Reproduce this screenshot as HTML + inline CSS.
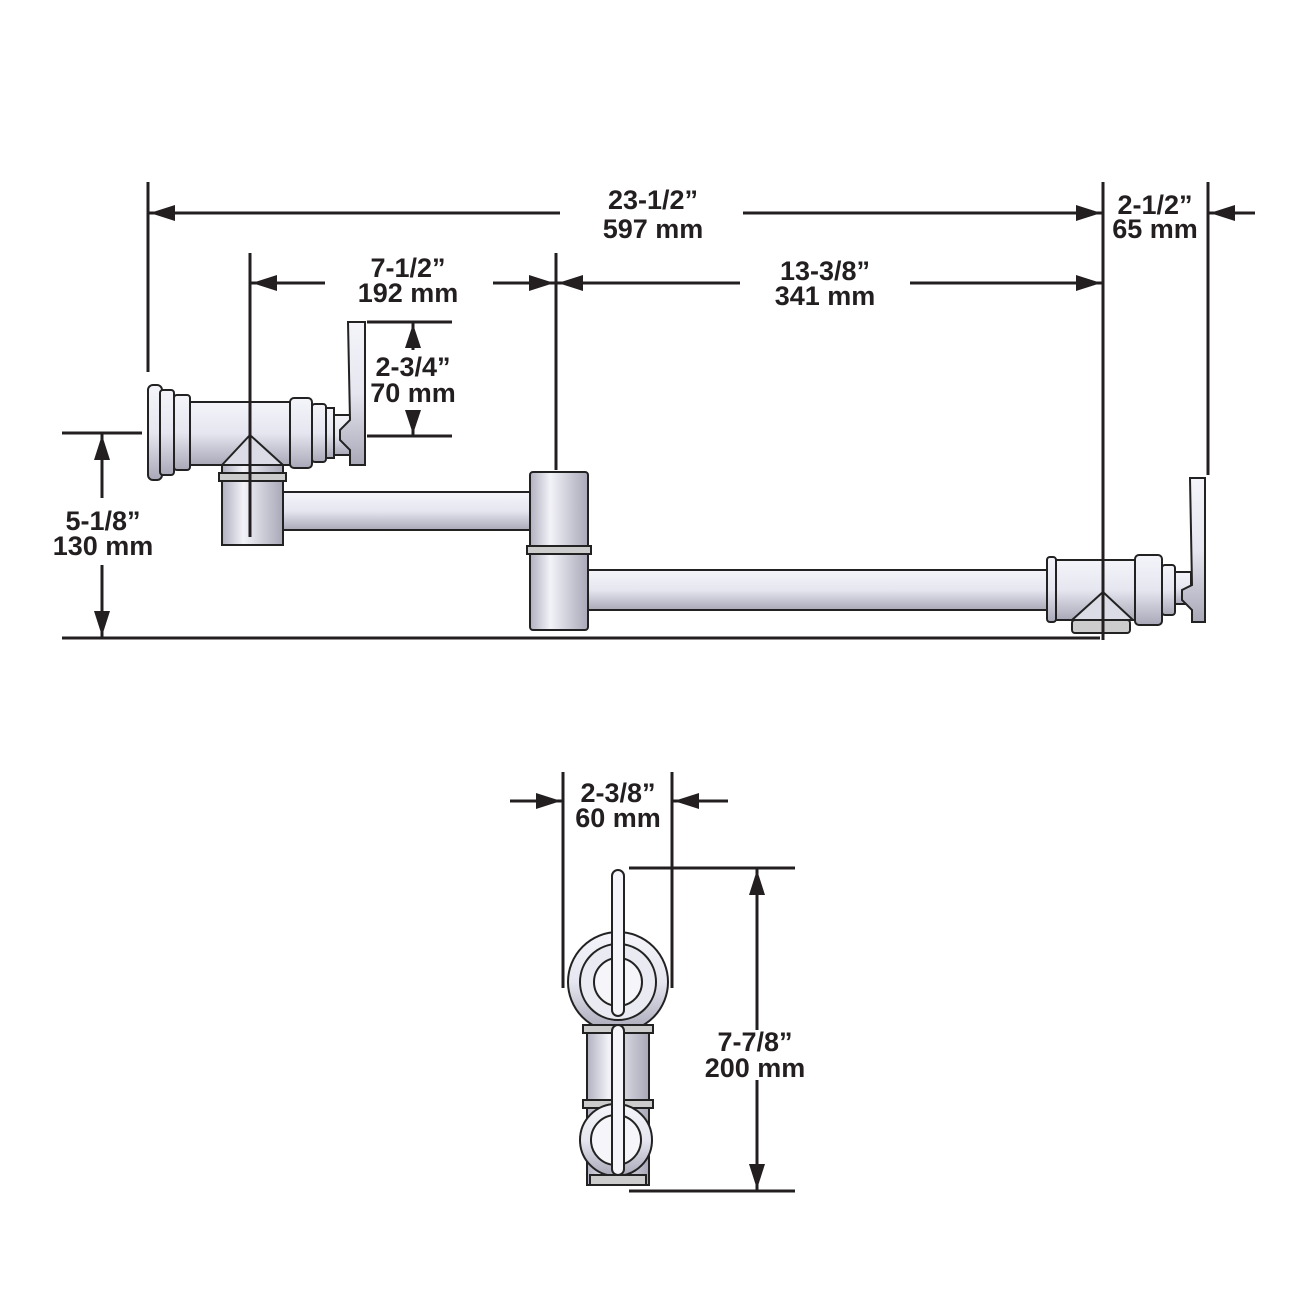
<!DOCTYPE html>
<html><head><meta charset="utf-8"><style>
html,body{margin:0;padding:0;background:#fff;}
svg{display:block;}
text{font-family:"Liberation Sans",sans-serif;font-weight:bold;font-size:27px;fill:#231f20;text-anchor:middle;}
</style></head><body>
<svg width="1300" height="1300" viewBox="0 0 1300 1300" xmlns="http://www.w3.org/2000/svg">
<defs>
<linearGradient id="gv" x1="0" y1="0" x2="0" y2="1">
<stop offset="0" stop-color="#f4f4fa"/><stop offset="0.5" stop-color="#e6e6f0"/><stop offset="1" stop-color="#a8a8b8"/>
</linearGradient>
<linearGradient id="gh" x1="0" y1="0" x2="1" y2="0">
<stop offset="0" stop-color="#b0b0c0"/><stop offset="0.35" stop-color="#f2f2f8"/><stop offset="1" stop-color="#a8a8b8"/>
</linearGradient>
</defs>
<g fill="url(#gv)" stroke="#222" stroke-width="2">
<!-- left assembly -->
<rect x="148" y="385" width="14" height="95" rx="5"/>
<rect x="160" y="390" width="14" height="85" rx="3"/>
<rect x="174" y="395" width="16" height="75" rx="3"/>
<rect x="190" y="402" width="102" height="63"/>
<rect x="290" y="398" width="22" height="70" rx="4"/>
<rect x="312" y="404" width="14" height="58" rx="3"/>
<rect x="326" y="408" width="8" height="50"/>
<path d="M334 415 L355 415 L355 455 L334 455 Z"/>
<path d="M348 322 L365 322 L365 465 L350 465 L350 450 L340 440 L340 430 L350 420 Z"/>
<path d="M222 465 L250 435 L283 465 Z" fill="#dcdce6"/>
<rect x="222" y="465" width="61" height="80" fill="url(#gh)"/>
<rect x="219" y="473" width="67" height="8" fill="#ccc"/>
<rect x="283" y="492" width="250" height="38"/>
<rect x="530" y="472" width="58" height="158" rx="3" fill="url(#gh)"/>
<rect x="527" y="546" width="64" height="8" fill="#ccc"/>
<rect x="588" y="570" width="462" height="40"/>
<!-- right end -->
<rect x="1047" y="557" width="9" height="65" rx="3"/>
<rect x="1056" y="560" width="80" height="60"/>
<path d="M1072 620 L1103 592 L1133 620 Z" fill="#dcdce6"/>
<rect x="1072" y="620" width="58" height="13" rx="3" fill="#ccc"/>
<rect x="1135" y="555" width="27" height="70" rx="4"/>
<rect x="1162" y="565" width="13" height="50" rx="3"/>
<rect x="1175" y="572" width="16" height="32"/>
<path d="M1190 478 L1205 478 L1205 622 L1192 622 L1192 610 L1182 600 L1182 590 L1192 585 Z"/>
<!-- bottom view -->
<circle cx="618" cy="982" r="50"/>
<circle cx="618" cy="982" r="38" fill="#eaeaf2"/>
<circle cx="618" cy="982" r="24" fill="#f6f6fa"/>
<rect x="587" y="1025" width="62" height="160" fill="url(#gh)"/>
<rect x="583" y="1025" width="70" height="8" fill="#ccc"/>
<rect x="583" y="1100" width="70" height="8" fill="#ccc"/>
<circle cx="616" cy="1140" r="36"/>
<circle cx="616" cy="1140" r="25" fill="#f6f6fa"/>
<rect x="590" y="1175" width="56" height="10" fill="#ccc"/>
<rect x="612" y="870" width="12" height="146" rx="6" fill="#f6f6fa"/>
<rect x="612" y="1025" width="12" height="150" rx="6" fill="#f6f6fa"/>
</g>
<g stroke="#231f20" stroke-width="3" fill="none">
<line x1="148" y1="182" x2="148" y2="372"/>
<line x1="1103" y1="182" x2="1103" y2="640"/>
<line x1="1208" y1="182" x2="1208" y2="475"/>
<line x1="148" y1="213" x2="560" y2="213"/>
<line x1="743" y1="213" x2="1103" y2="213"/>
<line x1="1208" y1="213" x2="1255" y2="213"/>
<line x1="250" y1="253" x2="250" y2="537"/>
<line x1="556" y1="253" x2="556" y2="470"/>
<line x1="250" y1="283" x2="325" y2="283"/>
<line x1="493" y1="283" x2="556" y2="283"/>
<line x1="556" y1="283" x2="740" y2="283"/>
<line x1="910" y1="283" x2="1103" y2="283"/>
<line x1="367" y1="322" x2="452" y2="322"/>
<line x1="367" y1="436" x2="452" y2="436"/>
<line x1="413" y1="322" x2="413" y2="350"/>
<line x1="413" y1="410" x2="413" y2="436"/>
<line x1="62" y1="433" x2="142" y2="433"/>
<line x1="62" y1="638" x2="1100" y2="638"/>
<line x1="102" y1="433" x2="102" y2="498"/>
<line x1="102" y1="565" x2="102" y2="638"/>
<line x1="563" y1="772" x2="563" y2="988"/>
<line x1="672" y1="772" x2="672" y2="988"/>
<line x1="510" y1="801" x2="563" y2="801"/>
<line x1="672" y1="801" x2="728" y2="801"/>
<line x1="629" y1="868" x2="795" y2="868"/>
<line x1="629" y1="1191" x2="795" y2="1191"/>
<line x1="757" y1="868" x2="757" y2="1030"/>
<line x1="757" y1="1080" x2="757" y2="1191"/>
</g>
<g fill="#231f20">
<path d="M150 213 L175 205 L175 221 Z"/>
<path d="M1101 213 L1076 205 L1076 221 Z"/>
<path d="M1210 213 L1235 205 L1235 221 Z"/>
<path d="M252 283 L277 275 L277 291 Z"/>
<path d="M554 283 L529 275 L529 291 Z"/>
<path d="M558 283 L583 275 L583 291 Z"/>
<path d="M1101 283 L1076 275 L1076 291 Z"/>
<path d="M413 324 L405 348 L421 348 Z"/>
<path d="M413 434 L405 410 L421 410 Z"/>
<path d="M102 435 L94 460 L110 460 Z"/>
<path d="M102 636 L94 611 L110 611 Z"/>
<path d="M561 801 L536 793 L536 809 Z"/>
<path d="M674 801 L699 793 L699 809 Z"/>
<path d="M757 870 L749 895 L765 895 Z"/>
<path d="M757 1189 L749 1164 L765 1164 Z"/>
</g>
<text x="653" y="209">23-1/2”</text>
<text x="653" y="238">597 mm</text>
<text x="1155" y="214">2-1/2”</text>
<text x="1155" y="238">65 mm</text>
<text x="408" y="277">7-1/2”</text>
<text x="408" y="302">192 mm</text>
<text x="825" y="280">13-3/8”</text>
<text x="825" y="305">341 mm</text>
<text x="413" y="376">2-3/4”</text>
<text x="413" y="402">70 mm</text>
<text x="103" y="530">5-1/8”</text>
<text x="103" y="555">130 mm</text>
<text x="618" y="802">2-3/8”</text>
<text x="618" y="827">60 mm</text>
<text x="755" y="1051">7-7/8”</text>
<text x="755" y="1077">200 mm</text>
</svg>
</body></html>
